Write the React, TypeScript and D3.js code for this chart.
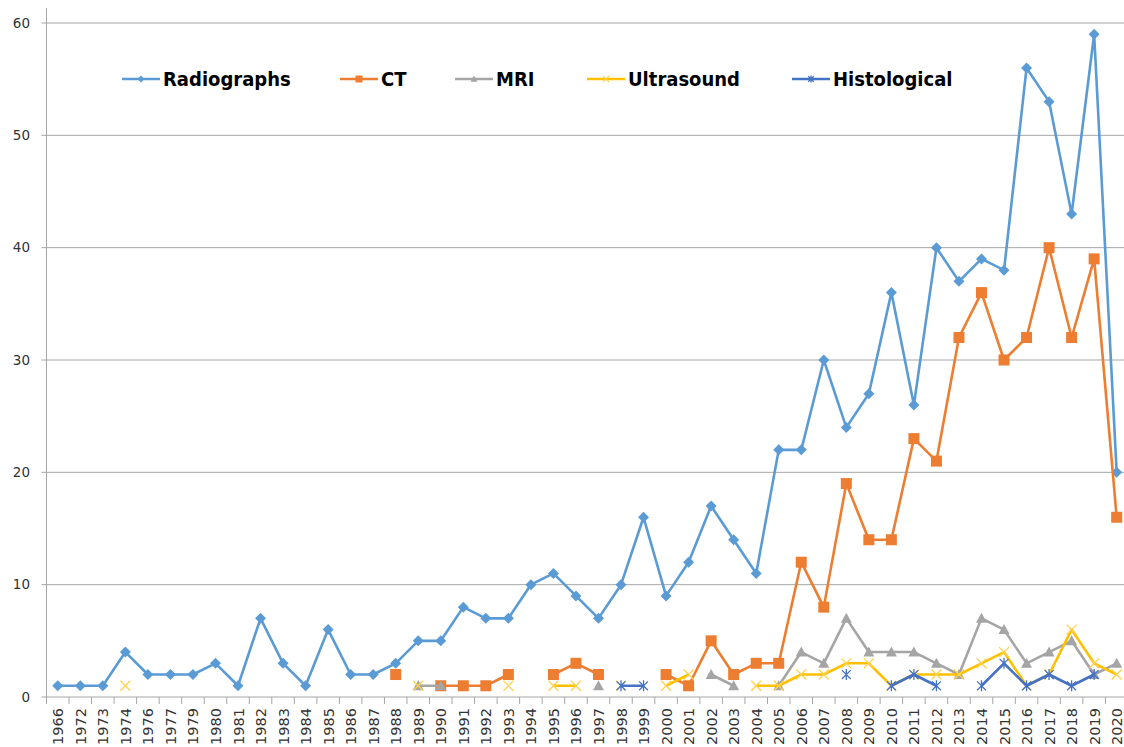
import React, { useRef, useEffect } from "react";
import * as d3 from "d3";

const years = [
  "1966", "1972", "1973", "1974", "1976", "1977", "1979", "1980", "1981",
  "1982", "1983", "1984", "1985", "1986", "1987", "1988", "1989", "1990",
  "1991", "1992", "1993", "1994", "1995", "1996", "1997", "1998", "1999",
  "2000", "2001", "2002", "2003", "2004", "2005", "2006", "2007", "2008",
  "2009", "2010", "2011", "2012", "2013", "2014", "2015", "2016", "2017",
  "2018", "2019", "2020",
];

const _ = null;

const radiographs = [
  1, 1, 1, 4, 2, 2, 2, 3, 1,
  7, 3, 1, 6, 2, 2, 3, 5, 5,
  8, 7, 7, 10, 11, 9, 7, 10, 16,
  9, 12, 17, 14, 11, 22, 22, 30, 24,
  27, 36, 26, 40, 37, 39, 38, 56, 53,
  43, 59, 20,
];

const ct = [
  _, _, _, _, _, _, _, _, _,
  _, _, _, _, _, _, 2, _, 1,
  1, 1, 2, _, 2, 3, 2, _, _,
  2, 1, 5, 2, 3, 3, 12, 8, 19,
  14, 14, 23, 21, 32, 36, 30, 32, 40,
  32, 39, 16,
];

const mri = [
  _, _, _, _, _, _, _, _, _,
  _, _, _, _, _, _, _, 1, 1,
  _, _, _, _, _, _, 1, _, _,
  _, _, 2, 1, _, 1, 4, 3, 7,
  4, 4, 4, 3, 2, 7, 6, 3, 4,
  5, 2, 3,
];

const ultrasound = [
  _, _, _, 1, _, _, _, _, _,
  _, _, _, _, _, _, _, 1, _,
  _, _, 1, _, 1, 1, _, 1, _,
  1, 2, _, _, 1, 1, 2, 2, 3,
  3, 1, 2, 2, 2, 3, 4, 1, 2,
  6, 3, 2,
];

const histological = [
  _, _, _, _, _, _, _, _, _,
  _, _, _, _, _, _, _, _, _,
  _, _, _, _, _, _, _, 1, 1,
  _, _, _, _, _, _, _, _, 2,
  _, 1, 2, 1, _, 1, 3, 1, 2,
  1, 2, _,
];

const yTicks = [0, 10, 20, 30, 40, 50, 60];

const series = [
  { name: "Radiographs", values: radiographs, color: "#5b9bd5", marker: "diamond" },
  { name: "CT", values: ct, color: "#ed7d31", marker: "square" },
  { name: "MRI", values: mri, color: "#a5a5a5", marker: "triangle" },
  { name: "Ultrasound", values: ultrasound, color: "#ffc000", marker: "x" },
  { name: "Histological", values: histological, color: "#4472c4", marker: "star" },
];

const legendX = [122, 340, 455, 587, 792];

function drawMarker(g, type, cx, cy, color, s) {
  if (type === "diamond") {
    g.append("path")
      .attr("d", `M${cx},${cy - s}L${cx + s},${cy}L${cx},${cy + s}L${cx - s},${cy}Z`)
      .attr("fill", color);
  } else if (type === "square") {
    g.append("rect")
      .attr("x", cx - s)
      .attr("y", cy - s)
      .attr("width", s * 2)
      .attr("height", s * 2)
      .attr("fill", color);
  } else if (type === "triangle") {
    g.append("path")
      .attr("d", `M${cx},${cy - s}L${cx + s},${cy + s * 0.8}L${cx - s},${cy + s * 0.8}Z`)
      .attr("fill", color);
  } else if (type === "x") {
    const k = s * 0.9;
    g.append("path")
      .attr("d", `M${cx - k},${cy - k}L${cx + k},${cy + k}M${cx - k},${cy + k}L${cx + k},${cy - k}`)
      .attr("stroke", "#ffd24d")
      .attr("stroke-width", 1.3)
      .attr("fill", "none");
  } else {
    const k = s * 0.8;
    g.append("path")
      .attr(
        "d",
        `M${cx - k},${cy - k}L${cx + k},${cy + k}M${cx - k},${cy + k}L${cx + k},${cy - k}M${cx},${cy - s}L${cx},${cy + s}`
      )
      .attr("stroke", color)
      .attr("stroke-width", 1.3)
      .attr("fill", "none");
  }
}

const App = () => {
  const ref = useRef(null);

  useEffect(() => {
    const svg = d3.select(ref.current);
    svg.selectAll("*").remove();

    const left = 46.5,
      bottom = 697,
      top = 23;

    const x = d3
      .scaleBand()
      .domain(years)
      .range([left, left + years.length * 22.53]);

    const y = d3.scaleLinear().domain([0, 60]).range([bottom, top]);

    // grid + y labels
    const grid = svg.append("g");
    yTicks.forEach((t) => {
      grid
        .append("line")
        .attr("x1", left - 5)
        .attr("x2", 1124)
        .attr("y1", y(t))
        .attr("y2", y(t))
        .attr("stroke", "#a6a6a6")
        .attr("stroke-width", 1);
      grid
        .append("text")
        .attr("x", 30)
        .attr("y", y(t))
        .attr("dy", "0.35em")
        .attr("text-anchor", "end")
        .attr("font-family", "DejaVu Sans, Verdana, sans-serif")
        .attr("font-size", 13.5)
        .attr("fill", "#333")
        .text(t);
    });

    // axes lines
    svg
      .append("line")
      .attr("x1", left)
      .attr("x2", left)
      .attr("y1", 8)
      .attr("y2", bottom)
      .attr("stroke", "#a6a6a6");

    const xa = svg.append("g");
    years.forEach((yr) => {
      const x0 = x(yr);
      xa.append("line")
        .attr("x1", x0)
        .attr("x2", x0)
        .attr("y1", bottom)
        .attr("y2", bottom + 7)
        .attr("stroke", "#a6a6a6");
      const cx = x0 + x.bandwidth() / 2;
      xa.append("text")
        .attr("transform", `translate(${cx + 5.5},708) rotate(-90)`)
        .attr("text-anchor", "end")
        .attr("font-family", "DejaVu Sans, Verdana, sans-serif")
        .attr("font-size", 14.5)
        .attr("fill", "#333")
        .text(yr);
    });

    // series
    const cx = (i) => x(years[i]) + x.bandwidth() / 2;
    const line = d3
      .line()
      .defined((d) => d != null)
      .x((d, i) => cx(i))
      .y((d) => y(d));

    series.forEach((s) => {
      const g = svg.append("g");
      g.append("path")
        .datum(s.values)
        .attr("fill", "none")
        .attr("stroke", s.color)
        .attr("stroke-width", 2.6)
        .attr("stroke-linejoin", "round")
        .attr("d", line);
      s.values.forEach((v, i) => {
        if (v == null) return;
        drawMarker(g, s.marker, cx(i), y(v), s.color, s.marker === "square" ? 5.5 : 5.5);
      });
    });

    // legend
    const legend = svg.append("g");
    series.forEach((s, i) => {
      const lx = legendX[i];
      const ly = 79;
      legend
        .append("line")
        .attr("x1", lx)
        .attr("x2", lx + 38)
        .attr("y1", ly)
        .attr("y2", ly)
        .attr("stroke", s.color)
        .attr("stroke-width", 2.6);
      drawMarker(legend, s.marker, lx + 19, ly, s.color, 3.5);
      legend
        .append("text")
        .attr("x", lx + 41)
        .attr("y", ly)
        .attr("dy", "0.36em")
        .attr("font-family", "DejaVu Sans Condensed, DejaVu Sans, sans-serif")
        .attr("font-stretch", "condensed")
        .attr("font-weight", "bold")
        .attr("font-size", 20)
        .attr("fill", "#000")
        .text(s.name);
    });
  }, []);

  return (
    <div style={{ position: "absolute", left: 0, top: 0 }}>
      <svg ref={ref} width={1124} height={747} style={{ display: "block", background: "#fff" }} />
    </div>
  );
};

export default App;
